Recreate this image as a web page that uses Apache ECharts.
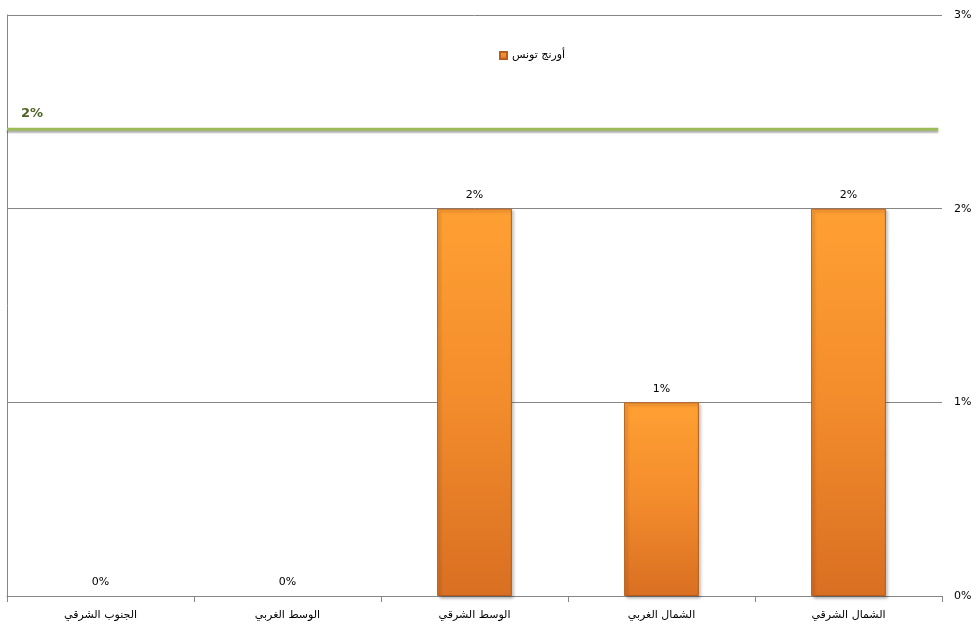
<!DOCTYPE html>
<html>
<head>
    <meta charset="utf-8">
    <title>أورنج تونس</title>
    <script src="https://cdn.jsdelivr.net/npm/echarts@6/dist/echarts.min.js"></script>
    <style>
        html, body { margin: 0; padding: 0; background: #fff; }
        #main { width: 979px; height: 640px; }
    </style>
</head>
<body>
    <div id="main"></div>
    <script>
        // الفئات من اليسار إلى اليمين كما في الصورة
        var regions = ['الجنوب الشرقي', 'الوسط الغربي', 'الوسط الشرقي', 'الشمال الغربي', 'الشمال الشرقي'];
        var orangeValues = [0, 0, 0.02, 0.01, 0.02];
        var seriesName = 'أورنج تونس';
        var targetValue = 0.0241;   // الخط الأخضر
        var yTicks = [0, 0.01, 0.02, 0.03];

        function pct(v) {
            return Math.round(v * 100) + '%';
        }

        var font = '"DejaVu Sans", "Noto Sans", sans-serif';

        // الأعمدة الصفرية بلا حدود حتى لا يظهر خط رفيع
        var barData = orangeValues.map(function (v) {
            return v === 0 ? { value: v, itemStyle: { borderWidth: 0, shadowColor: 'transparent' } } : v;
        });

        var myChart = echarts.init(document.getElementById('main'));
        myChart.setOption({
            animation: false,
            textStyle: { fontFamily: font },
            legend: {
                data: [{ name: seriesName, icon: 'rect' }],
                top: 45,
                left: 494,
                itemWidth: 7,
                itemHeight: 7,
                itemGap: 4,
                textStyle: { fontSize: 11, color: '#000', fontFamily: font }
            },
            grid: { left: 7, right: 37, top: 15, bottom: 44 },
            xAxis: [{
                type: 'category',
                data: regions,
                axisLine: { lineStyle: { color: '#868686' } },
                axisTick: { show: true, length: 6, lineStyle: { color: '#868686' } },
                axisLabel: { color: '#000', fontSize: 11, margin: 14, fontFamily: font }
            }, {
                // محور مخفي لرسم الخط الأخضر على كامل العرض
                type: 'value',
                min: 0,
                max: 1,
                show: false
            }],
            yAxis: {
                type: 'value',
                position: 'right',
                min: yTicks[0],
                max: yTicks[yTicks.length - 1],
                interval: 0.01,
                axisLine: { show: true, lineStyle: { color: '#868686' } },
                axisTick: { show: true, length: 8, lineStyle: { color: '#868686' } },
                axisLabel: { formatter: pct, color: '#000', fontSize: 11, margin: 12 },
                splitLine: { lineStyle: { color: '#868686' } }
            },
            series: [{
                name: seriesName,
                type: 'bar',
                barWidth: '40%',
                data: barData,
                itemStyle: {
                    color: new echarts.graphic.LinearGradient(0, 0, 0, 1, [
                        { offset: 0, color: '#ffa033' },
                        { offset: 0.5, color: '#f38c2c' },
                        { offset: 1, color: '#d96f22' }
                    ]),
                    borderColor: '#b85e1c',
                    borderWidth: 1,
                    shadowColor: 'rgba(0,0,0,0.3)',
                    shadowBlur: 3,
                    shadowOffsetX: 2,
                    shadowOffsetY: 2
                },
                label: {
                    show: true,
                    position: 'top',
                    distance: 8,
                    formatter: function (p) { return pct(p.value); },
                    color: '#000',
                    fontSize: 11
                }
            }, {
                name: 'target',
                type: 'line',
                xAxisIndex: 1,
                data: [
                    {
                        value: [0, targetValue],
                        label: {
                            show: true,
                            position: 'top',
                            offset: [25, -4],
                            formatter: function () { return pct(targetValue); },
                            color: '#4f6228',
                            fontSize: 13,
                            fontWeight: 'bold'
                        }
                    },
                    [0.996, targetValue]
                ],
                symbol: 'circle',
                symbolSize: 0,
                showSymbol: true,
                silent: true,
                z: 5,
                lineStyle: {
                    color: '#9bbb59',
                    width: 3,
                    shadowColor: 'rgba(0,0,0,0.35)',
                    shadowBlur: 2,
                    shadowOffsetY: 2
                }
            }]
        });
    </script>
</body>
</html>
